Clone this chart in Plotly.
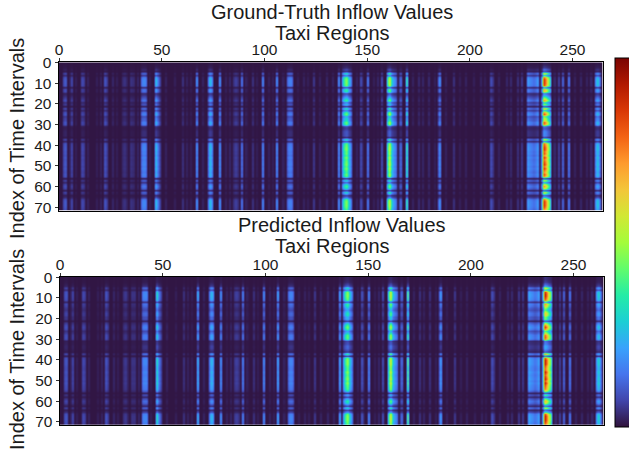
import numpy as np
import plotly.graph_objects as go

W, H = 629, 452
N_REGIONS = 265
N_INTERVALS = 72

# Values (colour scale 0..1).
region_ids = [2, 3, 6, 11, 12, 22, 23, 31, 32, 35, 36, 40, 41, 42, 47, 48, 49, 60, 67,
              73, 74, 78, 85, 86, 87, 89, 94, 99, 106, 111, 112, 113, 124,
              136, 138, 139, 140, 141, 142, 147, 150, 157, 160, 161, 162, 163, 164,
              166, 169, 175, 180, 185, 192, 210, 211, 223, 225, 228, 229, 230, 231,
              232, 233, 235, 236, 237, 238, 239, 243, 245, 248, 261, 262, 263]
truth_peak = [.08, .10, .07, .07, .06, .09, .06, .03, .04, .04, .03, .14, .17, .15, .26, .16, .07, .04, .19,
              .26, .20, .19, .04, .06, .04, .14, .04, .17, .18, .13, .16, .14, .05,
              .18, .26, .40, .46, .28, .17, .08, .15, .08, .38, .55, .28, .20, .15,
              .13, .36, .03, .03, .19, .04, .08, .05, .04, .05, .20, .17, .15, .13,
              .15, .20, .20, .86, .76, .55, .38, .06, .12, .15, .20, .27, .15]
pred_peak = [.08, .09, .07, .07, .06, .09, .06, .04, .05, .04, .04, .15, .17, .16, .32, .16, .08, .04, .24,
             .24, .22, .19, .05, .06, .04, .16, .04, .18, .22, .14, .17, .14, .05,
             .22, .24, .40, .48, .28, .17, .09, .17, .08, .36, .57, .28, .20, .15,
             .13, .41, .04, .04, .21, .05, .08, .05, .05, .05, .22, .19, .17, .14,
             .16, .21, .22, .90, .78, .56, .42, .06, .12, .15, .22, .29, .15]
faint_ids = [5, 8, 14, 18, 20, 26, 28, 33, 38, 44, 52, 56, 62, 64, 70, 81, 83, 91, 96, 102, 104,
             109, 116, 119, 121, 127, 130, 133, 145, 153, 155, 172, 177, 183, 188, 195, 198, 202,
             205, 207, 214, 218, 220, 241, 251, 254, 257, 259]
faint_peak = [.02, .015, .02, .015, .02, .025, .015, .02, .025, .015, .02, .015, .02, .015, .02, .02,
              .025, .02, .015, .02, .015, .02, .015, .02, .015, .02, .025, .02, .02, .015, .025, .02,
              .025, .015, .02, .015, .02, .015, .02, .015, .02, .025, .03, .03, .02, .025, .02, .03]

truth_rows = [.02, .02, .06, .15, .10, .70, .30, .90, 1.0, 1.0,
              1.0, .95, .20, .80, .75, .18, .30, .62, .85, .35,
              .55, .10, .75, .35, .85, .95, .50, .65, .70, .95,
              .85, .15, .12, .20, .20, .20, .08, .70, .20, .90,
              .95, 1.0, 1.0, .92, .95, .85, 1.0, .90, .95, 1.0,
              .90, 1.0, .90, .85, .95, .85, .08, .65, .25, .70,
              .85, .65, .12, .70, .12, .35, .90, 1.0, 1.0, 1.0,
              .95, .85]
pred_rows = [.04, .04, .06, .12, .20, .70, .35, .95, 1.0, 1.0,
             .95, .88, .25, .80, .72, .55, .45, .70, .70, .50,
             .50, .12, .55, .80, .95, .85, .45, .60, .85, .90,
             .85, .15, .18, .25, .25, .18, .10, .80, .12, .90,
             1.0, 1.0, 1.0, .92, .88, .88, 1.0, .90, .95, 1.0,
             .90, 1.0, .92, .88, .85, .65, .10, .45, .15, .50,
             .75, .65, .14, .65, .14, .35, .90, 1.0, 1.0, 1.0,
             .95, .88]

background = .006
x_ticks = [0, 50, 100, 150, 200, 250]
y_ticks = [0, 10, 20, 30, 40, 50, 60, 70]


def panel(peak, rows):
    col = np.full(N_REGIONS, 0.0)
    col[faint_ids] = faint_peak
    col[region_ids] = peak
    return background + np.outer(rows, col)


regions = np.arange(N_REGIONS)
intervals = np.arange(N_INTERVALS)

fig = go.Figure()
for z, xa, ya in [(panel(truth_peak, truth_rows), "x", "y"), (panel(pred_peak, pred_rows), "x2", "y2")]:
    fig.add_trace(go.Heatmap(x=regions, y=intervals, z=z, xaxis=xa, yaxis=ya, coloraxis="coloraxis",
                             zsmooth="best", hoverongaps=False))

TICK = dict(family="Liberation Sans, Arial, sans-serif", size=15.5, color="#1a1a1a")


def xax(x0, x1, anchor):
    return dict(domain=[x0 / W, x1 / W], range=[-0.3, 264.7], side="top", anchor=anchor, tickmode="array",
                tickvals=x_ticks, ticks="outside", ticklen=3, tickwidth=1, tickcolor="#333", tickfont=TICK,
                ticklabelstandoff=-3,
                showgrid=False, zeroline=False, showline=True, linecolor="black", linewidth=1, mirror=True)


def yax(y0, y1, anchor):
    return dict(domain=[1 - y1 / H, 1 - y0 / H], range=[71.7, -0.2], anchor=anchor, tickmode="array",
                tickvals=y_ticks, ticks="outside", ticklen=3, tickwidth=1, tickcolor="#333", tickfont=TICK,
                showgrid=False, zeroline=False, showline=True, linecolor="black", linewidth=1, mirror=True)


TITLE = dict(family="Liberation Sans, Arial, sans-serif", size=20, color="#1a1a1a")


def note(text, px, py, angle=0):
    return dict(text=text, x=px / W, y=1 - py / H, xref="paper", yref="paper", showarrow=False,
                font=TITLE, textangle=angle, xanchor="center", yanchor="middle")


fig.update_layout(
    width=W, height=H, margin=dict(l=0, r=0, t=0, b=0, autoexpand=False),
    paper_bgcolor="white", plot_bgcolor="white", showlegend=False,
    xaxis=xax(58.5, 602.7, "y"), yaxis=yax(62.3, 210.7, "x"),
    xaxis2=xax(59.5, 603.7, "y2"), yaxis2=yax(276.7, 425.3, "x2"),
    coloraxis=dict(colorscale="Turbo", cmin=0, cmax=1,
                   colorbar=dict(x=614.7 / W, xanchor="left", y=1 - 242.8 / H, yanchor="middle", len=369 / H,
                                 lenmode="fraction", thickness=30, outlinecolor="black", outlinewidth=1,
                                 showticklabels=False, ticks="", xpad=0, ypad=0)),
    annotations=[
        note("Ground-Truth Inflow Values", 332, 12),
        note("Taxi Regions", 332, 33),
        note("Predicted Inflow Values", 341.5, 225),
        note("Taxi Regions", 332, 246),
        note("Index of Time Intervals", 17, 139, -90),
        note("Index of Time Intervals", 17, 350, -90),
    ],
)
fig.write_html("out.html", config={"displayModeBar": False},
               post_script="document.body.style.margin='0';document.body.style.overflow='hidden';")
